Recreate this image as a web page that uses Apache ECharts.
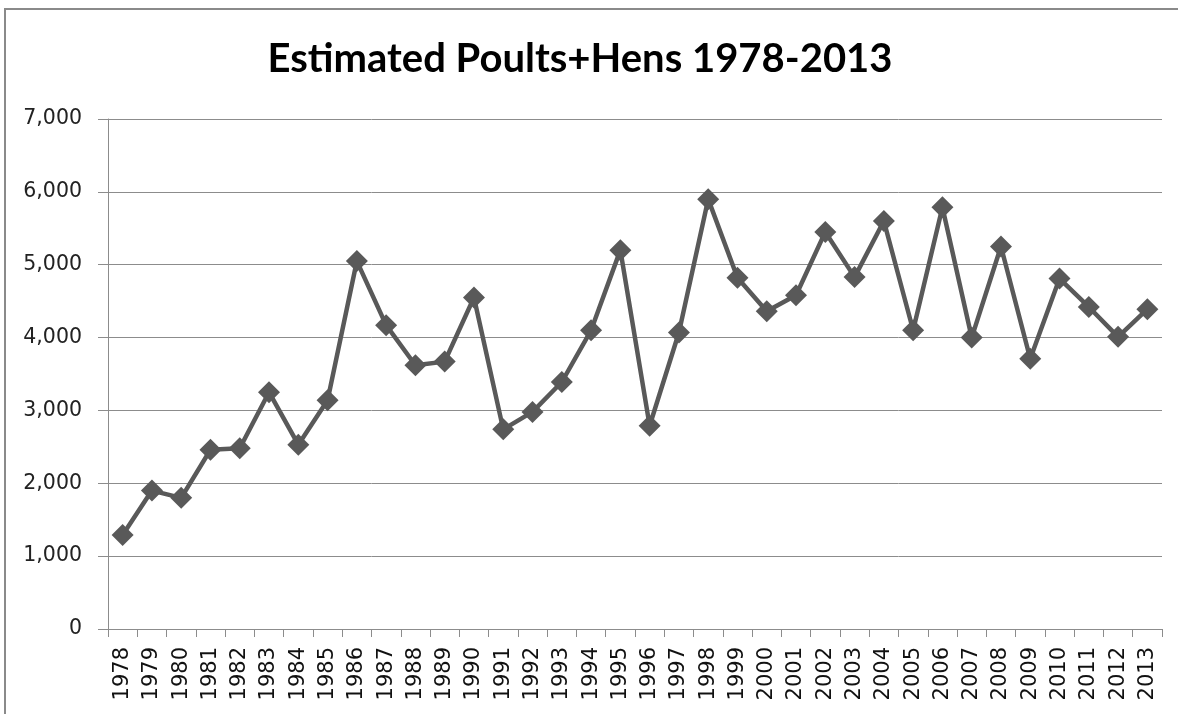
<!DOCTYPE html>
<html>
<head>
<meta charset="utf-8">
<script src="https://cdn.jsdelivr.net/npm/echarts@6/dist/echarts.min.js"></script>
<style>
  html, body { margin: 0; padding: 0; background: #fff; }
  #main { width: 1178px; height: 714px; }
</style>
</head>
<body>
<div id="main"></div>
<script>
var years = ['1978','1979','1980','1981','1982','1983','1984','1985','1986','1987',
             '1988','1989','1990','1991','1992','1993','1994','1995','1996','1997',
             '1998','1999','2000','2001','2002','2003','2004','2005','2006','2007',
             '2008','2009','2010','2011','2012','2013'];
var poultsHens = [1290, 1900, 1800, 2460, 2480, 3250, 2530, 3140, 5050, 4170,
                  3620, 3670, 4550, 2740, 2980, 3390, 4100, 5200, 2790, 4070,
                  5900, 4820, 4360, 4580, 5450, 4830, 5600, 4100, 5790, 4000,
                  5250, 3710, 4810, 4420, 4010, 4390];
var yTicks = [0, 1000, 2000, 3000, 4000, 5000, 6000, 7000];

var myChart = echarts.init(document.getElementById('main'));

var option = {
    animation: false,
    backgroundColor: '#fff',
    title: {
        text: 'Estimated Poults+Hens 1978-2013',
        left: 575,
        top: 34,
        textAlign: 'center',
        textStyle: {
            fontFamily: 'Lato',
            fontWeight: 'bold',
            fontSize: 40,
            color: '#000'
        }
    },
    // frame of the embedded chart
    graphic: [{
        type: 'rect',
        shape: { x: 5, y: 9, width: 1300, height: 800 },
        style: { fill: 'none', stroke: '#8a8a8a', lineWidth: 2 },
        silent: true
    }],
    grid: {
        left: 108,
        right: 16,
        top: 119,
        bottom: 85
    },
    xAxis: {
        type: 'category',
        data: years,
        boundaryGap: true,
        axisLine: { lineStyle: { color: '#8c8c8c', width: 1 } },
        axisTick: { show: true, length: 8, lineStyle: { color: '#8c8c8c' } },
        axisLabel: {
            rotate: 90,
            margin: 18,
            interval: 0,
            fontFamily: 'DejaVu Sans',
            fontSize: 21,
            color: '#111'
        }
    },
    yAxis: {
        type: 'value',
        min: yTicks[0],
        max: yTicks[yTicks.length - 1],
        interval: 1000,
        axisLine: { show: true, lineStyle: { color: '#8c8c8c', width: 1 } },
        axisTick: { show: true, length: 10, lineStyle: { color: '#8c8c8c' } },
        splitLine: { lineStyle: { color: '#8c8c8c', width: 1 } },
        axisLabel: {
            margin: 26,
            fontFamily: 'DejaVu Sans',
            fontSize: 20.5,
            color: '#222',
            formatter: function (v) {
                return v.toLocaleString('en-US');
            }
        }
    },
    series: [{
        name: 'Poults+Hens',
        type: 'line',
        data: poultsHens,
        symbol: 'diamond',
        symbolSize: 22,
        lineStyle: { color: '#595959', width: 4.5 },
        itemStyle: { color: '#595959' }
    }]
};

myChart.setOption(option);
</script>
</body>
</html>
